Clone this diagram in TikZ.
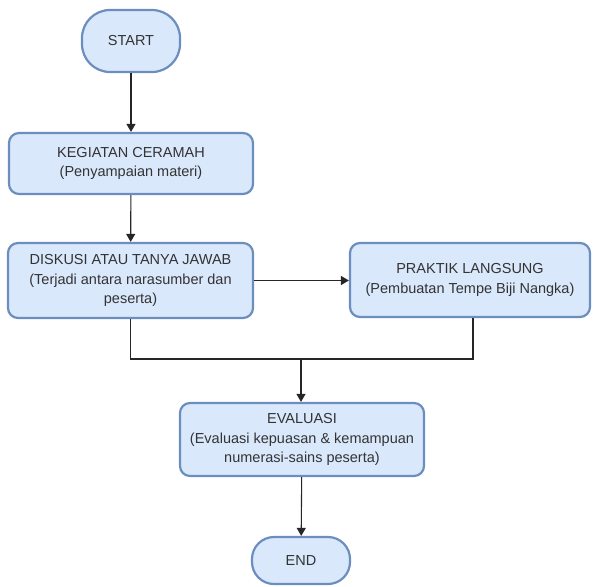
\documentclass[tikz,border=0pt]{standalone}
\usepackage{fontspec}
\setmainfont{Liberation Sans}
\usetikzlibrary{arrows.meta}
\definecolor{boxfill}{HTML}{DAE8FC}
\definecolor{boxline}{HTML}{6C8EBF}
\definecolor{txt}{HTML}{333333}
\tikzset{
  box/.style={draw=boxline, fill=boxfill, line width=2.2pt, rounded corners=10pt, align=center, inner sep=0pt, font=\fontsize{14.5}{19.5}\selectfont, text=txt},
  term/.style={box, rounded corners=28pt},
  conn/.style={draw=black!85, line width=1.1pt},
  arr/.style={conn, -{Triangle[length=8pt, width=9pt]}}
}
\begin{document}
\begin{tikzpicture}[x=1pt,y=-1pt]
\useasboundingbox (0,0) rectangle (593,586);
\node[term, minimum width=98pt, minimum height=62pt] (start) at (131,41) {START};
\node[box, minimum width=244pt, minimum height=61pt] (keg) at (131,163.5) {KEGIATAN CERAMAH\\(Penyampaian materi)};
\node[box, minimum width=245pt, minimum height=75pt] (disk) at (130.5,280.5) {DISKUSI ATAU TANYA JAWAB\\(Terjadi antara narasumber dan\\peserta)};
\node[box, minimum width=240pt, minimum height=74pt] (prak) at (470,280) {PRAKTIK LANGSUNG\\(Pembuatan Tempe Biji Nangka)};
\node[box, minimum width=244pt, minimum height=73pt] (eval) at (302,439.5) {EVALUASI\\(Evaluasi kepuasan \& kemampuan\\numerasi-sains peserta)};
\node[term, minimum width=98pt, minimum height=47pt, rounded corners=22pt] (end) at (301,560.5) {END};
\coordinate (join) at (301,359);
\draw[arr] (start) -- (keg);
\draw[arr] (keg) -- (disk);
\draw[arr] (disk.east) -- (prak.west |- disk.east);
\draw[conn] (disk.south) |- (join);
\draw[conn] ([xshift=3pt]prak.south) |- (join);
\draw[arr] (join) -- (eval.north -| join);
\draw[arr] (eval) -- (end);
\end{tikzpicture}
\end{document}
